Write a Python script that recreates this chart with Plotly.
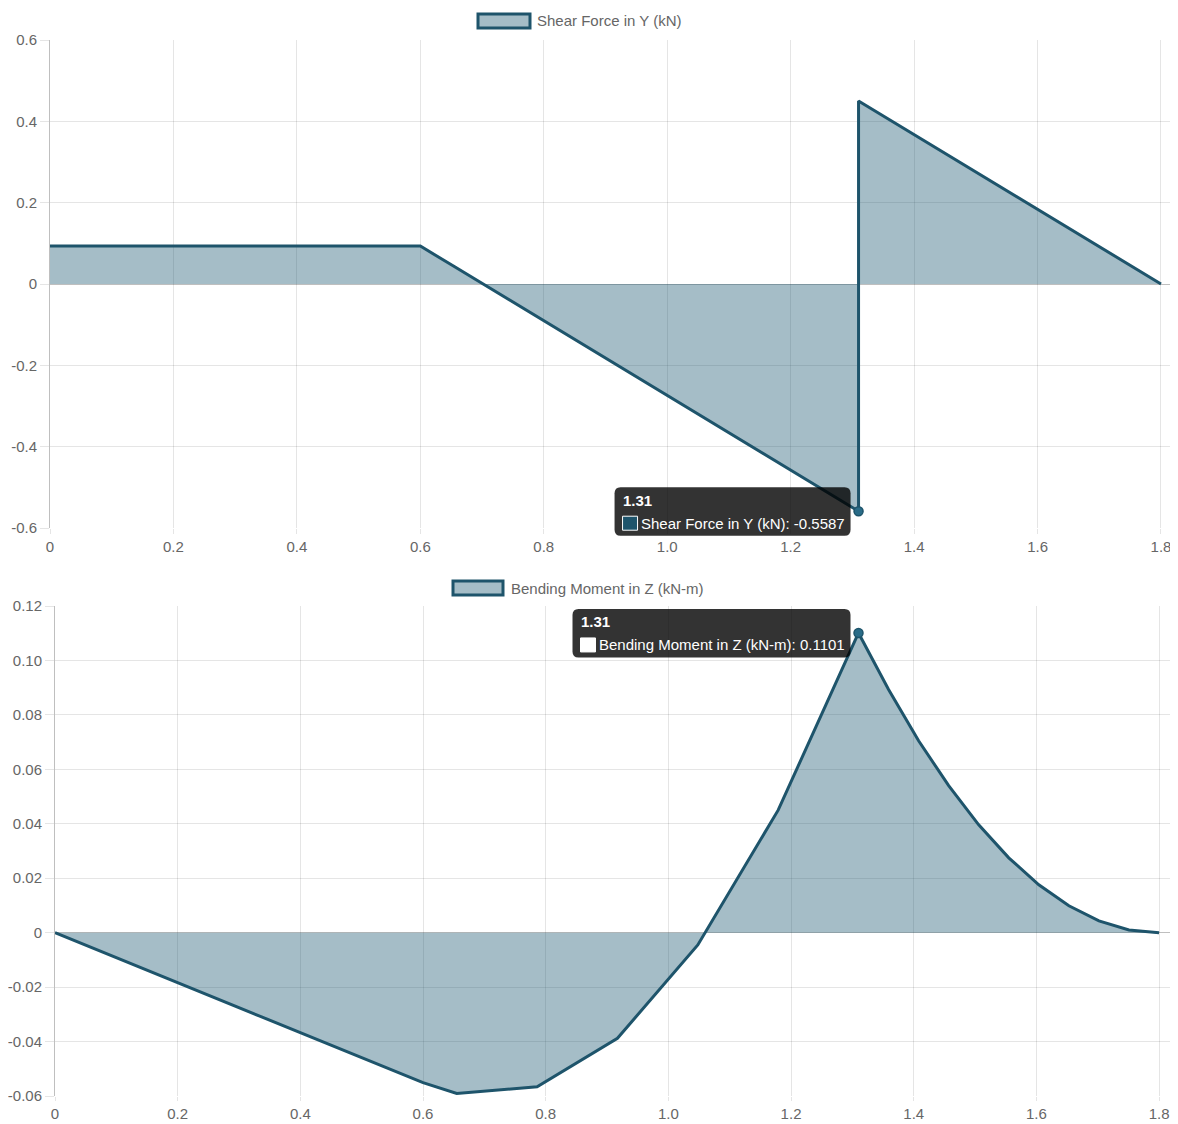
import plotly.graph_objects as go

W, H = 1178, 1124
OFF = 8  # the page places the figure 8px from the top-left corner

# ---------------- data ----------------
shear_name = "Shear Force in Y (kN)"
moment_name = "Bending Moment in Z (kN-m)"

x_shear = [0, 0.131, 0.262, 0.393, 0.524, 0.6, 0.655, 0.786, 0.917, 1.048, 1.179, 1.31,
           1.31, 1.359, 1.408, 1.457, 1.506, 1.555, 1.604, 1.653, 1.702, 1.751, 1.8]
shear = [0.0933, 0.0933, 0.0933, 0.0933, 0.0933, 0.0933, 0.0428, -0.0775, -0.1978, -0.3181, -0.4384, -0.5587,
         0.4500, 0.4050, 0.3600, 0.3150, 0.2700, 0.2250, 0.1800, 0.1350, 0.0900, 0.0450, 0.0]

x_moment = [0, 0.131, 0.262, 0.393, 0.524, 0.6, 0.655, 0.786, 0.917, 1.048, 1.179, 1.31,
            1.359, 1.408, 1.457, 1.506, 1.555, 1.604, 1.653, 1.702, 1.751, 1.8]
moment = [0, -0.0120, -0.0241, -0.0361, -0.0482, -0.0551, -0.0591, -0.0566, -0.0388, -0.0045, 0.0450, 0.1101,
          0.0893, 0.0705, 0.0540, 0.0396, 0.0275, 0.0176, 0.0099, 0.0043, 0.0010, 0.0]

hover_shear = 11   # index of hovered point
hover_moment = 11

x_tick_vals = [0, 0.2, 0.4, 0.6, 0.8, 1.0, 1.2, 1.4, 1.6, 1.8]
x_tick_text = ["0", "0.2", "0.4", "0.6", "0.8", "1.0", "1.2", "1.4", "1.6", "1.8"]
shear_tick_vals = [-0.6, -0.4, -0.2, 0, 0.2, 0.4, 0.6]
shear_tick_text = ["-0.6", "-0.4", "-0.2", "0", "0.2", "0.4", "0.6"]
moment_tick_vals = [-0.06, -0.04, -0.02, 0, 0.02, 0.04, 0.06, 0.08, 0.10, 0.12]
moment_tick_text = ["-0.06", "-0.04", "-0.02", "0", "0.02", "0.04", "0.06", "0.08", "0.10", "0.12"]

# ---------------- styles / layout geometry (screen pixels) ----------------
LINE = "rgb(30,84,107)"
FILL = "rgba(31,90,115,0.4)"
POINT = "rgb(42,108,136)"
GRID = "rgba(0,0,0,0.1)"
ZERO = "rgba(0,0,0,0.25)"
TXT = "#666666"
FONT = "Liberation Sans, Arial, sans-serif"
FS = 15

TOP = dict(xl=50, xr=1175, xrange=[0, 1.8227], yt=40, yb=528, yrange=[-0.6, 0.6])
BOT = dict(xl=55, xr=1175, xrange=[0, 1.826], yt=606, yb=1096, yrange=[-0.06, 0.12])


def px(x):
    return (x - OFF) / W


def py(y):
    return 1 - (y - OFF) / H


def to_pixel(geom, xv, yv):
    x0, x1 = geom["xrange"]
    y0, y1 = geom["yrange"]
    X = geom["xl"] + (xv - x0) / (x1 - x0) * (geom["xr"] - geom["xl"])
    Y = geom["yb"] - (yv - y0) / (y1 - y0) * (geom["yb"] - geom["yt"])
    return X, Y


fig = go.Figure()

fig.add_trace(go.Scatter(x=x_shear, y=shear, mode="lines", line=dict(color=LINE, width=3),
                         fill="tozeroy", fillcolor=FILL, xaxis="x", yaxis="y",
                         hoverinfo="skip", showlegend=False))
fig.add_trace(go.Scatter(x=x_moment, y=moment, mode="lines", line=dict(color=LINE, width=3),
                         fill="tozeroy", fillcolor=FILL, xaxis="x2", yaxis="y2",
                         hoverinfo="skip", showlegend=False))

axis_common = dict(showgrid=True, gridcolor=GRID, gridwidth=1, ticks="outside", tickcolor=GRID,
                   tickfont=dict(family=FONT, size=FS, color=TXT), fixedrange=True, automargin=False)

fig.update_layout(
    template=None,
    width=W, height=H,
    margin=dict(l=0, r=0, t=0, b=0, pad=0),
    paper_bgcolor="white", plot_bgcolor="white",
    showlegend=False,
    font=dict(family=FONT, size=FS, color=TXT),
    xaxis=dict(domain=[px(TOP["xl"]), px(TOP["xr"])], range=TOP["xrange"], anchor="y",
               tickmode="array", tickvals=x_tick_vals, ticktext=x_tick_text,
               zeroline=False, showline=False, ticklen=5, **axis_common),
    yaxis=dict(domain=[py(TOP["yb"]), py(TOP["yt"])], range=TOP["yrange"], anchor="x",
               tickmode="array", tickvals=shear_tick_vals, ticktext=shear_tick_text,
               zeroline=True, zerolinecolor=ZERO, zerolinewidth=1,
               showline=True, linecolor=ZERO, linewidth=1, ticklen=9, **axis_common),
    xaxis2=dict(domain=[px(BOT["xl"]), px(BOT["xr"])], range=BOT["xrange"], anchor="y2",
                tickmode="array", tickvals=x_tick_vals, ticktext=x_tick_text,
                zeroline=False, showline=False, ticklen=4, **axis_common),
    yaxis2=dict(domain=[py(BOT["yb"]), py(BOT["yt"])], range=BOT["yrange"], anchor="x2",
                tickmode="array", tickvals=moment_tick_vals, ticktext=moment_tick_text,
                zeroline=True, zerolinecolor=ZERO, zerolinewidth=1,
                showline=True, linecolor=ZERO, linewidth=1, ticklen=9, **axis_common),
)

shapes = []
annotations = []


# ---------------- legends ----------------
def legend(x0, x1, y0, y1, tx, ty, text):
    shapes.append(dict(type="rect", xref="paper", yref="paper",
                       x0=px(x0), x1=px(x1), y0=py(y1), y1=py(y0),
                       fillcolor=FILL, line=dict(color=LINE, width=3)))
    annotations.append(dict(xref="paper", yref="paper", x=px(tx), y=py(ty), text=text,
                            showarrow=False, xanchor="left", yanchor="middle",
                            font=dict(family=FONT, size=FS, color=TXT)))


legend(478, 530, 14, 28, 535, 20.5, shear_name)
legend(453, 503, 581, 595, 509, 588, moment_name)


# ---------------- tooltips (positioned next to the hovered data point) ----------------
def rounded_path(L, R, T, B, r):
    pts = lambda x, y: f"{px(x):.6f},{py(y):.6f}"
    return (f"M {pts(L + r, T)} L {pts(R - r, T)} Q {pts(R, T)} {pts(R, T + r)} "
            f"L {pts(R, B - r)} Q {pts(R, B)} {pts(R - r, B)} L {pts(L + r, B)} "
            f"Q {pts(L, B)} {pts(L, B - r)} L {pts(L, T + r)} Q {pts(L, T)} {pts(L + r, T)} Z")


def tooltip(geom, xv, yv, width, title, body, sq_fill, xa, ya):
    X, Y = to_pixel(geom, xv, yv)
    R = X - 8
    L = R - width
    T, B = Y - 24, Y + 24.5
    shapes.append(dict(type="path", xref="paper", yref="paper", path=rounded_path(L, R, T, B, 6),
                       fillcolor="rgba(0,0,0,0.8)", line=dict(width=0), layer="above"))
    shapes.append(dict(type="rect", xref="paper", yref="paper",
                       x0=px(L + 8), x1=px(L + 23), y0=py(Y + 19), y1=py(Y + 5),
                       fillcolor=sq_fill, line=dict(color="white", width=1), layer="above"))
    annotations.append(dict(xref="paper", yref="paper", x=px(L + 6), y=py(Y - 11),
                            text=f"<b>{title}</b>", showarrow=False, xanchor="left", yanchor="middle",
                            font=dict(family=FONT, size=FS, color="white")))
    annotations.append(dict(xref="paper", yref="paper", x=px(L + 24), y=py(Y + 12),
                            text=body, showarrow=False, xanchor="left", yanchor="middle",
                            font=dict(family=FONT, size=FS, color="white")))
    fig.add_trace(go.Scatter(x=[xv], y=[yv], mode="markers",
                             marker=dict(size=9, color=POINT, line=dict(color=LINE, width=1.5)),
                             xaxis=xa, yaxis=ya, hoverinfo="skip", showlegend=False, cliponaxis=False))


xs, ys = x_shear[hover_shear], shear[hover_shear]
tooltip(TOP, xs, ys, 236, f"{xs:.2f}", f"{shear_name}: {ys:.4f}", LINE, "x", "y")
xm, ym = x_moment[hover_moment], moment[hover_moment]
tooltip(BOT, xm, ym, 278, f"{xm:.2f}", f"{moment_name}: {ym:.4f}", "white", "x2", "y2")

fig.update_layout(shapes=shapes, annotations=annotations)

fig.write_html("out.html")
